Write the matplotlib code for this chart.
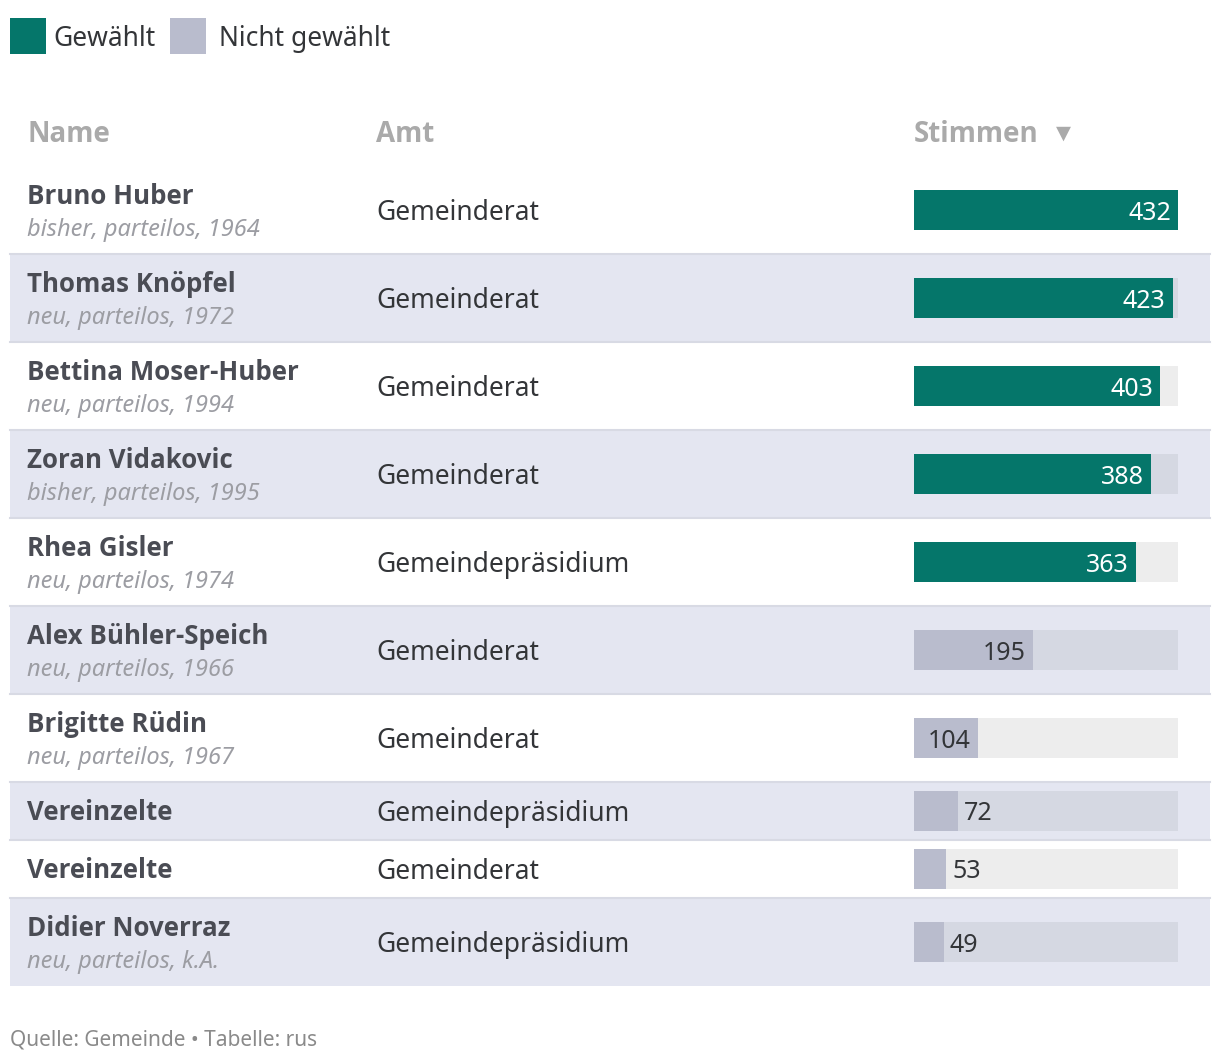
import matplotlib
matplotlib.use("Agg")
import matplotlib.pyplot as plt
from matplotlib.patches import Rectangle

plt.rcParams['font.family'] = ['Noto Sans', 'DejaVu Sans']
BOLD_FAM = ['Open Sans', 'DejaVu Sans']

# data
names = ["Bruno Huber", "Thomas Knöpfel", "Bettina Moser-Huber", "Zoran Vidakovic",
         "Rhea Gisler", "Alex Bühler-Speich", "Brigitte Rüdin", "Vereinzelte",
         "Vereinzelte", "Didier Noverraz"]
details = ["bisher, parteilos, 1964", "neu, parteilos, 1972", "neu, parteilos, 1994",
           "bisher, parteilos, 1995", "neu, parteilos, 1974", "neu, parteilos, 1966",
           "neu, parteilos, 1967", "", "", "neu, parteilos, k.A."]
aemter = ["Gemeinderat", "Gemeinderat", "Gemeinderat", "Gemeinderat",
          "Gemeindepräsidium", "Gemeinderat", "Gemeinderat", "Gemeindepräsidium",
          "Gemeinderat", "Gemeindepräsidium"]
stimmen = [432, 423, 403, 388, 363, 195, 104, 72, 53, 49]
gewaehlt = [True, True, True, True, True, False, False, False, False, False]

GREEN = "#05766a"
GREY = "#b9bccd"
BAND = "#e4e6f1"
NAME_C = "#4a4c54"
TEXT_C = "#333538"

W, H = 1220, 1062
fig = plt.figure(figsize=(W / 100, H / 100), dpi=100)
fig.patch.set_facecolor("white")
ax = fig.add_axes([0, 0, 1, 1])
ax.set_xlim(0, W)
ax.set_ylim(H, 0)
ax.axis("off")

# legend
ax.add_patch(Rectangle((10, 18), 36, 36, color=GREEN, lw=0))
ax.text(53, 39, "Gewählt", fontsize=19, color=TEXT_C, va="center")
ax.add_patch(Rectangle((170, 18), 36, 36, color=GREY, lw=0))
ax.text(219, 39, "Nicht gewählt", fontsize=19, color=TEXT_C, va="center")

# header
hdr = dict(fontsize=20, color="#aaaaaa", fontweight="bold", va="center",
           family=BOLD_FAM)
ax.text(27, 134, "Name", **hdr)
ax.text(376, 134, "Amt", **hdr)
ax.text(914, 134, "Stimmen", **hdr)
ax.text(1056, 133, "▼", fontsize=14, color="#aaaaaa", va="center",
        family="DejaVu Sans")

# rows
top = 166
centers = []
for i in range(len(names)):
    h = 88 if details[i] else 58
    c = top + h / 2
    centers.append(c)
    if i % 2 == 1:
        ax.add_patch(Rectangle((10, top), 1200, h, color=BAND, lw=0, zorder=0))
    if i > 0:
        ax.plot([10, 1210], [top, top], color="#d8dae4", lw=1.5, zorder=1)
    if details[i]:
        ax.text(27, top + 31, names[i], fontsize=18.6, fontweight="bold",
                family=BOLD_FAM, color=NAME_C, va="center")
        ax.text(27, top + 64, details[i], fontsize=17, style="italic",
                color="#9c9da3", va="center")
    else:
        ax.text(27, c + 2, names[i], fontsize=18.6, fontweight="bold",
                family=BOLD_FAM, color=NAME_C, va="center")
    ax.text(376, c + 3, aemter[i], fontsize=19, color=TEXT_C, va="center")
    top += h

# bars
bax = fig.add_axes([914 / W, 0, 264 / W, 1])
bax.set_xlim(0, max(stimmen))
bax.set_ylim(H, 0)
bax.axis("off")
bax.patch.set_alpha(0)
track_colors = ["#d5d8e2" if i % 2 else "#ededed" for i in range(len(names))]
bax.barh(centers, [max(stimmen)] * len(names), height=40, color=track_colors, lw=0)
bar_colors = [GREEN if g else GREY for g in gewaehlt]
bax.barh(centers, stimmen, height=40, color=bar_colors, lw=0)

for c, v, g in zip(centers, stimmen, gewaehlt):
    if g:
        bax.annotate(str(v), (v, c + 3), xytext=(-7, 0), textcoords="offset pixels",
                     ha="right", va="center", fontsize=18, color="white")
    elif v > 90:
        bax.annotate(str(v), (v, c + 3), xytext=(-7, 0), textcoords="offset pixels",
                     ha="right", va="center", fontsize=18, color=TEXT_C)
    else:
        bax.annotate(str(v), (v, c + 3), xytext=(6, 0), textcoords="offset pixels",
                     ha="left", va="center", fontsize=18, color=TEXT_C)

# footer
ax.text(10, 1040, "Quelle: Gemeinde • Tabelle: rus", fontsize=15, color="#8a8a8a",
        va="center")

fig.savefig("out.png", dpi=100)
